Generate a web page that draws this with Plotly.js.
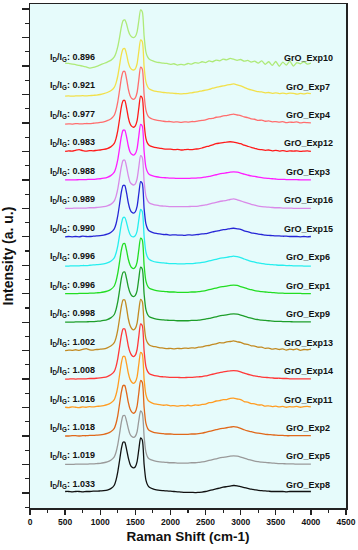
<!DOCTYPE html>
<html>
<head>
<meta charset="utf-8">
<script src="https://cdn.plot.ly/plotly-3.0.1.min.js"></script>
<style>html,body{margin:0;padding:0;background:#fff;}#chart{width:358px;height:550px;}</style>
</head>
<body>
<div id="chart"></div>
<script>
// Raman shift grid (cm-1)
const wavenumber = [500,550,600,650,700,750,800,850,900,950,1000,1050,1100,1150,1200,
  1225,1250,1275,1300,1325,1350,1375,1400,1425,1450,1475,1500,1525,1550,1575,1600,1625,1650,1675,1700,
  1750,1800,1850,1900,1950,2000,2050,2100,2150,2200,2250,2300,2350,2400,2450,2500,2550,2600,2650,2700,2750,2800,2850,2900,2950,3000,3050,3100,3150,3200,3250,3300,3350,3400,3450,3500,3550,3600,3650,3700,3750,3800,3850,3900,3950,4000];

// x-axis tick labels
const xTickValues = [0,500,1000,1500,2000,2500,3000,3500,4000,4500];
const xTickLabels = ['0','500','1000','1500','2000','2500','3000','3500','4000','4500'];

// Intensities (a.u., relative to each spectrum's own baseline), bottom to top
const exp8 = [.05,.05,.04,.05,.05,.04,.05,.05,.06,.06,.07,.08,.10,.15,.27,
  .45,.74,1.13,1.54,1.78,1.78,1.53,1.23,1.01,.91,.88,.92,1.10,1.53,1.93,1.85,1.00,.46,.28,.20,
  .14,.11,.09,.08,.07,.06,.05,.04,.03,.02,.02,.02,.01,.02,.03,.05,.08,.11,.14,.17,.20,.22,.24,.26,.25,.22,.19,.16,.13,.11,.09,.08,.07,.06,.05,.05,.05,.05,.04,.05,.05,.05,.05,.05,.05,.05];
const exp5 = [.00,.00,.00,.01,.01,.01,.01,.02,.02,.03,.04,.06,.09,.15,.27,
  .43,.70,1.07,1.47,1.71,1.72,1.52,1.26,1.06,.98,.95,.99,1.15,1.55,1.88,1.80,.98,.44,.26,.19,
  .14,.11,.09,.08,.07,.06,.06,.05,.05,.05,.05,.06,.06,.07,.09,.11,.14,.17,.20,.23,.25,.27,.29,.30,.29,.26,.22,.18,.15,.12,.10,.08,.07,.06,.05,.04,.03,.03,.02,.02,.02,.01,.01,.01,.01,.01];
const exp2 = [.00,.00,.01,.01,.00,.01,.01,.02,.02,.03,.04,.06,.09,.15,.27,
  .44,.72,1.12,1.53,1.77,1.77,1.52,1.18,.95,.84,.80,.85,1.05,1.52,1.95,1.88,1.00,.45,.27,.19,
  .14,.11,.09,.08,.07,.07,.06,.06,.06,.06,.06,.07,.07,.08,.10,.13,.16,.19,.22,.25,.27,.29,.31,.33,.31,.27,.22,.18,.15,.12,.10,.08,.06,.05,.04,.03,.02,.02,.01,.01,.01,.01,.01,.01,.01,.01];
const exp11 = [.01,.00,.02,.01,.00,.02,.01,.03,.02,.04,.05,.07,.10,.16,.28,
  .45,.73,1.13,1.55,1.79,1.79,1.54,1.21,.99,.89,.85,.90,1.08,1.53,1.94,1.87,.99,.46,.28,.21,
  .15,.12,.10,.08,.09,.06,.07,.05,.07,.06,.08,.06,.09,.08,.11,.12,.17,.18,.23,.24,.28,.28,.32,.33,.30,.28,.21,.19,.14,.13,.09,.09,.05,.06,.03,.05,.02,.04,.01,.03,.02,.04,.01,.03,.04,.02];
const exp14 = [.00,.00,.01,.00,.01,.01,.01,.02,.02,.03,.04,.06,.09,.15,.27,
  .44,.72,1.11,1.52,1.76,1.76,1.50,1.16,.94,.83,.79,.84,1.04,1.51,1.94,1.87,.99,.45,.27,.19,
  .14,.11,.09,.08,.07,.06,.06,.06,.05,.05,.06,.06,.07,.08,.09,.11,.14,.17,.20,.23,.25,.27,.29,.30,.29,.25,.21,.17,.14,.11,.09,.07,.06,.05,.04,.03,.03,.02,.02,.01,.01,.01,.01,.01,.01,.01];
const exp13 = [.00,.02,.01,.03,.01,.04,.07,.03,.02,.04,.05,.06,.10,.16,.28,
  .45,.73,1.12,1.54,1.78,1.78,1.50,1.12,.88,.77,.73,.78,.97,1.42,1.80,1.72,.92,.42,.27,.20,
  .15,.13,.10,.09,.07,.08,.06,.08,.07,.09,.08,.10,.09,.12,.13,.17,.18,.22,.24,.28,.27,.31,.32,.34,.31,.29,.24,.22,.17,.16,.12,.12,.08,.09,.05,.07,.04,.06,.02,.05,.03,.06,.01,.04,.03,.05];
const exp9 = [.00,.00,.00,.01,.01,.01,.01,.02,.02,.03,.04,.06,.09,.15,.27,
  .44,.72,1.11,1.52,1.75,1.76,1.53,1.23,1.03,.93,.90,.94,1.11,1.54,1.93,1.86,.99,.45,.27,.19,
  .14,.11,.09,.08,.07,.06,.06,.05,.05,.05,.05,.06,.06,.07,.09,.11,.13,.16,.19,.22,.24,.26,.28,.29,.28,.25,.21,.17,.14,.11,.09,.07,.06,.05,.04,.03,.03,.02,.02,.02,.01,.01,.01,.01,.01,.01];
const exp1 = [.00,.00,.00,.00,.01,.01,.01,.02,.02,.03,.04,.06,.09,.15,.27,
  .44,.72,1.11,1.52,1.75,1.76,1.52,1.21,1.01,.91,.88,.93,1.11,1.55,1.95,1.88,1.00,.45,.27,.19,
  .14,.11,.09,.08,.07,.06,.06,.05,.05,.05,.05,.06,.06,.07,.09,.11,.14,.17,.20,.23,.25,.27,.29,.30,.29,.25,.21,.17,.14,.11,.09,.07,.06,.05,.04,.03,.02,.02,.01,.01,.01,.01,.01,.00,.00,.00];
const exp6 = [-.03,-.03,-.02,-.02,-.02,-.01,-.01,.00,.01,.02,.03,.05,.08,.14,.26,
  .42,.68,1.05,1.44,1.67,1.68,1.50,1.25,1.08,1.01,1.00,1.04,1.20,1.60,1.96,1.88,1.02,.47,.28,.20,
  .14,.11,.09,.08,.07,.06,.06,.05,.05,.05,.06,.06,.07,.08,.10,.12,.15,.18,.21,.24,.26,.28,.30,.32,.30,.27,.22,.18,.14,.11,.08,.06,.04,.03,.02,.01,.00,.00,-.01,-.01,-.02,-.02,-.02,-.03,-.03,-.03];
const exp15 = [.00,.01,.00,.01,.00,.02,.01,.01,.02,.03,.04,.06,.09,.15,.28,
  .45,.74,1.14,1.56,1.80,1.80,1.54,1.19,.96,.86,.83,.88,1.07,1.52,1.94,1.87,.99,.46,.28,.20,
  .15,.12,.10,.08,.08,.06,.07,.06,.06,.05,.07,.06,.07,.08,.10,.11,.14,.17,.20,.22,.25,.26,.29,.30,.28,.26,.21,.18,.14,.12,.09,.08,.06,.05,.04,.03,.03,.02,.02,.01,.01,.01,.00,.01,.00,.01];
const exp16 = [.00,.00,.00,.01,.01,.01,.01,.02,.02,.03,.04,.06,.09,.14,.26,
  .42,.68,1.06,1.45,1.68,1.69,1.46,1.14,.92,.85,.82,.86,1.04,1.46,1.85,1.78,.95,.44,.27,.19,
  .14,.11,.09,.08,.07,.06,.06,.06,.06,.06,.06,.07,.07,.08,.10,.12,.15,.18,.21,.24,.26,.28,.31,.33,.30,.26,.22,.18,.14,.11,.08,.06,.05,.04,.03,.02,.02,.01,.01,.01,.00,.00,.00,.00,.00,.00];
const exp3 = [.00,.00,.00,.00,.01,.01,.01,.02,.02,.03,.04,.06,.09,.15,.27,
  .44,.71,1.10,1.51,1.74,1.74,1.51,1.19,.98,.90,.87,.92,1.10,1.55,1.95,1.88,1.00,.45,.27,.19,
  .14,.11,.09,.08,.07,.06,.06,.05,.05,.05,.05,.06,.06,.07,.08,.10,.12,.15,.18,.21,.23,.25,.27,.28,.27,.24,.20,.17,.14,.12,.10,.08,.06,.05,.04,.03,.02,.02,.01,.01,.01,.01,.00,.00,.00,.00];
const exp12 = [.00,.02,.01,.04,.06,.03,.01,.03,.02,.04,.05,.07,.10,.16,.28,
  .45,.73,1.13,1.55,1.78,1.79,1.53,1.19,.97,.88,.85,.90,1.08,1.53,1.94,1.87,.99,.46,.28,.21,
  .16,.13,.11,.09,.08,.08,.06,.07,.05,.06,.07,.06,.08,.09,.12,.16,.19,.23,.27,.29,.31,.33,.34,.33,.30,.27,.22,.18,.14,.11,.07,.06,.04,.05,.02,.04,.01,.03,.00,.02,.01,.02,.00,.01,.02,.00];
const exp4 = [-.04,-.03,-.04,-.02,-.03,-.03,-.02,-.02,-.01,.00,.02,.04,.08,.14,.27,
  .45,.74,1.14,1.56,1.80,1.81,1.55,1.19,.96,.86,.83,.88,1.07,1.53,1.96,1.89,1.00,.46,.27,.19,
  .13,.10,.08,.06,.05,.05,.03,.04,.02,.04,.03,.05,.05,.07,.09,.11,.15,.16,.20,.21,.25,.26,.29,.31,.28,.26,.21,.19,.14,.13,.09,.10,.06,.07,.04,.05,.03,.05,.01,.03,.02,.04,.00,.02,.01,.00];
const exp7 = [-.06,-.05,-.06,-.05,-.05,-.04,-.05,-.04,-.03,-.02,.00,.03,.07,.13,.25,
  .40,.65,1.01,1.39,1.60,1.61,1.41,1.12,.95,.88,.86,.90,1.08,1.52,1.92,1.85,.98,.45,.27,.19,
  .14,.11,.09,.07,.06,.05,.04,.03,.02,.03,.04,.06,.08,.10,.13,.15,.18,.22,.25,.28,.30,.33,.35,.37,.34,.30,.25,.20,.16,.13,.10,.09,.06,.07,.04,.06,.03,.05,.02,.05,.04,.01,.04,.02,.05,.03];
const exp10 = [.10,.09,.07,.05,.02,.00,-.03,-.07,-.05,-.01,.04,.09,.14,.20,.32,
  .46,.68,1.00,1.36,1.59,1.62,1.48,1.24,1.09,1.02,1.00,1.04,1.20,1.60,1.97,1.90,1.05,.50,.32,.24,
  .18,.14,.12,.10,.09,.06,.08,.03,.06,.04,.09,.07,.12,.10,.15,.12,.18,.15,.21,.18,.24,.22,.27,.24,.20,.23,.17,.20,.14,.17,.10,.18,.06,.15,.02,.16,-.01,.14,.03,.17,.00,.12,.08,.15,.07,.10];

const seriesValues = [exp8, exp5, exp2, exp11, exp14, exp13, exp9, exp1, exp6, exp15, exp16, exp3, exp12, exp4, exp7, exp10];
const sampleNames = ['GrO_Exp8','GrO_Exp5','GrO_Exp2','GrO_Exp11','GrO_Exp14','GrO_Exp13','GrO_Exp9','GrO_Exp1','GrO_Exp6','GrO_Exp15','GrO_Exp16','GrO_Exp3','GrO_Exp12','GrO_Exp4','GrO_Exp7','GrO_Exp10'];
const idigRatios = ['1.033','1.019','1.018','1.016','1.008','1.002','0.998','0.996','0.996','0.990','0.989','0.988','0.983','0.977','0.921','0.896'];
const lineColors = ['#111111','#9a9a9a','#e0681a','#ff9c22','#ff3838','#c28a22','#1e9e2a','#22dd22','#26eeee','#2626d6','#d98ae8','#ff1eff','#ff1a1a','#ff6e6e','#f2e04a','#aeea78'];

const F = 'Arial, "Liberation Sans", sans-serif';
const traces = seriesValues.map((vals, i) => ({
  type: 'scatter', mode: 'lines',
  x: wavenumber.slice(0, vals.length),
  y: vals.map(v => v + i),
  name: sampleNames[i],
  line: {color: lineColors[i], width: 1.3, shape: 'spline', smoothing: 0.6},
  hoverinfo: 'skip'
}));

const annotations = [];
seriesValues.forEach((vals, i) => {
  annotations.push({
    xref: 'x', yref: 'y', x: 250, y: i + 0.3, xanchor: 'left', yanchor: 'middle',
    text: '<b>I<sub>D</sub>/I<sub>G</sub>: ' + idigRatios[i] + '</b>', showarrow: false,
    font: {family: F, size: 9, color: '#111'}
  });
  annotations.push({
    xref: 'x', yref: 'y', x: 3960, y: i + 0.28, xanchor: 'center', yanchor: 'middle',
    text: '<b>' + sampleNames[i] + '</b>', showarrow: false,
    font: {family: F, size: 9, color: '#111'}
  });
});

const layout = {
  width: 358, height: 550,
  margin: {l: 30, r: 12, t: 4, b: 42},
  paper_bgcolor: '#ffffff', plot_bgcolor: '#e6fbfb',
  showlegend: false,
  font: {family: F, color: '#111'},
  xaxis: {
    range: [0, 4500], tickmode: 'array', tickvals: xTickValues, ticktext: xTickLabels.map(t => '<b>' + t + '</b>'),
    ticks: 'outside', ticklen: 5, tickwidth: 1.3, tickcolor: '#222',
    minor: {tickmode: 'linear', tick0: 0, dtick: 250, ticks: 'outside', ticklen: 3, tickwidth: 1.2, tickcolor: '#222'},
    showline: true, linewidth: 1.5, linecolor: '#222', mirror: true,
    showgrid: false, zeroline: false,
    tickfont: {family: F, size: 8.5, color: '#111'},
    title: {text: '<b>Raman Shift (cm-1)</b>', font: {family: F, size: 13.5, color: '#111'}, standoff: 6},
    automargin: false
  },
  yaxis: {
    range: [-0.53, 17.18], tick0: 0, dtick: 1, ticks: 'outside', ticklen: 7, tickwidth: 1.3, tickcolor: '#222',
    minor: {dtick: 0.5, ticks: 'outside', ticklen: 4, tickwidth: 1.2, tickcolor: '#222'},
    showticklabels: false,
    showline: true, linewidth: 1.5, linecolor: '#222', mirror: true,
    showgrid: false, zeroline: false,
    title: {text: '<b>Intensity (a. u.)</b>', font: {family: F, size: 14, color: '#111'}, standoff: 6},
    automargin: false
  },
  annotations: annotations
};

Plotly.newPlot('chart', traces, layout, {displayModeBar: false, staticPlot: true});
</script>
</body>
</html>
